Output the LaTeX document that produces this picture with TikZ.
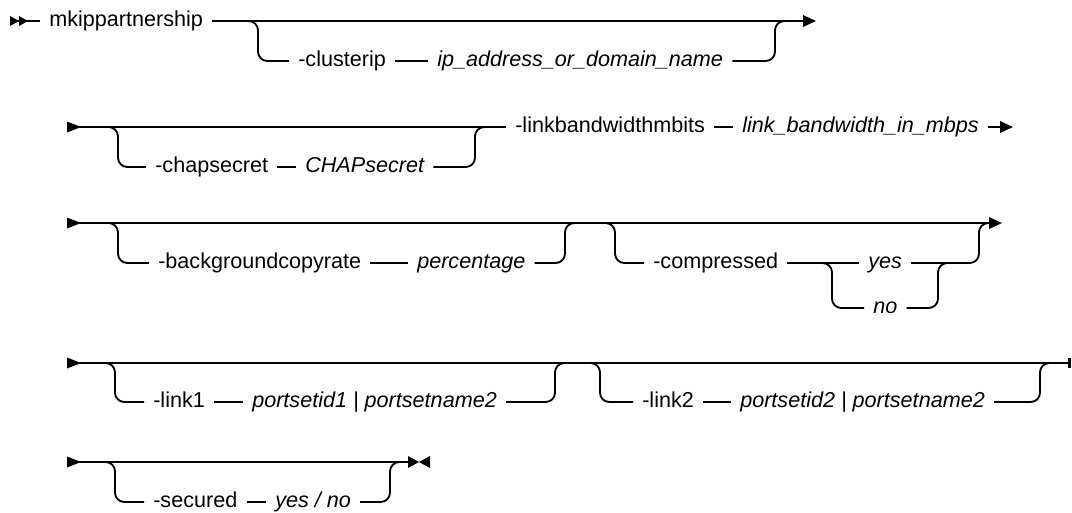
\documentclass[tikz,border=0pt]{standalone}
\usepackage{fontspec}
\setmainfont{Liberation Sans}
\usetikzlibrary{calc, positioning}

\begin{document}
\begin{tikzpicture}[x=0.75pt, y=-0.75pt,
  rail/.style={draw=black, line width=1.4pt, rounded corners=7pt},
  kw/.style={anchor=west, inner xsep=6.75pt, inner ysep=0pt, text height=8.4pt, text depth=0pt, font=\fontsize{16.2}{19}\selectfont},
  var/.style={kw, font=\fontsize{16.2}{19}\selectfont\itshape},
  railin/.pic={\fill (0,-5.5) -- (14,0) -- (0,5.5) -- cycle;},
  railstart/.pic={\fill (0,-5) -- (9,0) -- (0,5) -- cycle; \fill (9,-5) -- (18,0) -- (9,5) -- cycle;},
  railout/.pic={\fill (-13,-6) -- (0,0) -- (-13,6) -- cycle;},
  railbar/.pic={\fill (-2,-5) rectangle (1,5);},
  railend/.pic={\fill (-11,-6) -- (0,0) -- (-11,6) -- cycle; \fill (11,-6) -- (0,0) -- (11,6) -- cycle;},
]
\useasboundingbox (0,0) rectangle (1072,512);

% Row 1 -- command name, optional -clusterip
\coordinate (r1in)  at (10,21);
\coordinate (r1out) at (816,21);
\pic at (r1in) {railstart};
\pic at (r1out) {railout};
\node[kw] (mk) at (40,21) {mkippartnership};
\draw[rail] (r1in) -- (mk);
\draw[rail, shorten >=6pt] (mk) -- (r1out);

\coordinate (s1) at (258,21);
\coordinate (j1) at (775,21);
\node[kw]  (cl)  at (289,61) {-clusterip};
\node[var] (clv) at (428,61) {ip\_address\_or\_domain\_name};
\draw[rail] ($(s1)+(-14,0)$) -- (s1) -- (s1 |- cl) -- (cl);
\draw[rail] (cl) -- (clv);
\draw[rail] (clv) -- (j1 |- clv) -- (j1) -- ($(j1)+(14,0)$);

% Row 2 -- optional -chapsecret, required -linkbandwidthmbits
\coordinate (r2in)  at (67,127);
\coordinate (r2out) at (1013,127);
\pic at (r2in) {railin};
\pic at (r2out) {railout};
\node[kw]  (lbw)  at (506,127) {-linkbandwidthmbits};
\node[var] (lbwv) at (733,127) {link\_bandwidth\_in\_mbps};
\draw[rail] (r2in) -- (lbw);
\draw[rail] (lbw) -- (lbwv);
\draw[rail, shorten >=6pt] (lbwv) -- (r2out);

\coordinate (s2) at (118,127);
\coordinate (j2) at (475,127);
\node[kw]  (cs)  at (146,167) {-chapsecret};
\node[var] (csv) at (296,167) {CHAPsecret};
\draw[rail] ($(s2)+(-14,0)$) -- (s2) -- (s2 |- cs) -- (cs);
\draw[rail] (cs) -- (csv);
\draw[rail] (csv) -- (j2 |- csv) -- (j2) -- ($(j2)+(14,0)$);

% Row 3 -- -backgroundcopyrate, -compressed yes/no
\coordinate (r3in)  at (67,223);
\coordinate (r3out) at (1002,223);
\pic at (r3in) {railin};
\pic at (r3out) {railout};
\draw[rail, shorten >=6pt] (r3in) -- (r3out);

\coordinate (s3a) at (118,223);
\coordinate (j3a) at (565,223);
\node[kw]  (bg)  at (149,263) {-backgroundcopyrate};
\node[var] (bgv) at (408,263) {percentage};
\draw[rail] ($(s3a)+(-14,0)$) -- (s3a) -- (s3a |- bg) -- (bg);
\draw[rail] (bg) -- (bgv);
\draw[rail] (bgv) -- (j3a |- bgv) -- (j3a) -- ($(j3a)+(14,0)$);

\coordinate (s3b) at (615,223);
\coordinate (j3b) at (979,223);
\node[kw]  (cp)  at (644,263) {-compressed};
\node[var] (yes) at (859,263) {yes};
\node[var] (no)  at (864,308) {no};
\draw[rail] ($(s3b)+(-14,0)$) -- (s3b) -- (s3b |- cp) -- (cp);
\draw[rail] (cp) -- (yes);
\draw[rail] (yes) -- (j3b |- yes) -- (j3b) -- ($(j3b)+(14,0)$);

\coordinate (c1) at (832,263);
\coordinate (c2) at (938,263);
\draw[rail] ($(c1)+(-14,0)$) -- (c1) -- (c1 |- no) -- (no);
\draw[rail] (no) -- (c2 |- no) -- (c2) -- ($(c2)+(14,0)$);

% Row 4 -- -link1, -link2
\coordinate (r4in)  at (67,363);
\coordinate (r4out) at (1070,363);
\pic at (r4in) {railin};
\pic at (r4out) {railbar};
\draw[rail] (r4in) -- (r4out);

\coordinate (s4a) at (115,363);
\coordinate (j4a) at (555,363);
\node[kw]  (l1)  at (144,402) {-link1};
\node[var] (l1v) at (243,402) {portsetid1 | portsetname2};
\draw[rail] ($(s4a)+(-14,0)$) -- (s4a) -- (s4a |- l1) -- (l1);
\draw[rail] (l1) -- (l1v);
\draw[rail] (l1v) -- (j4a |- l1v) -- (j4a) -- ($(j4a)+(14,0)$);

\coordinate (s4b) at (600,363);
\coordinate (j4b) at (1040,363);
\node[kw]  (l2)  at (633,402) {-link2};
\node[var] (l2v) at (731,402) {portsetid2 | portsetname2};
\draw[rail] ($(s4b)+(-14,0)$) -- (s4b) -- (s4b |- l2) -- (l2);
\draw[rail] (l2) -- (l2v);
\draw[rail] (l2v) -- (j4b |- l2v) -- (j4b) -- ($(j4b)+(14,0)$);

% Row 5 -- -secured, end of statement
\coordinate (r5in)  at (67,462);
\coordinate (r5out) at (419,462);
\pic at (r5in) {railin};
\pic at (r5out) {railend};
\draw[rail, shorten >=8pt] (r5in) -- (r5out);

\coordinate (s5) at (115,462);
\coordinate (j5) at (390,462);
\node[kw]  (sec)  at (144,502) {-secured};
\node[var] (secv) at (266,502) {yes / no};
\draw[rail] ($(s5)+(-14,0)$) -- (s5) -- (s5 |- sec) -- (sec);
\draw[rail] (sec) -- (secv);
\draw[rail] (secv) -- (j5 |- secv) -- (j5) -- ($(j5)+(14,0)$);

\end{tikzpicture}
\end{document}
